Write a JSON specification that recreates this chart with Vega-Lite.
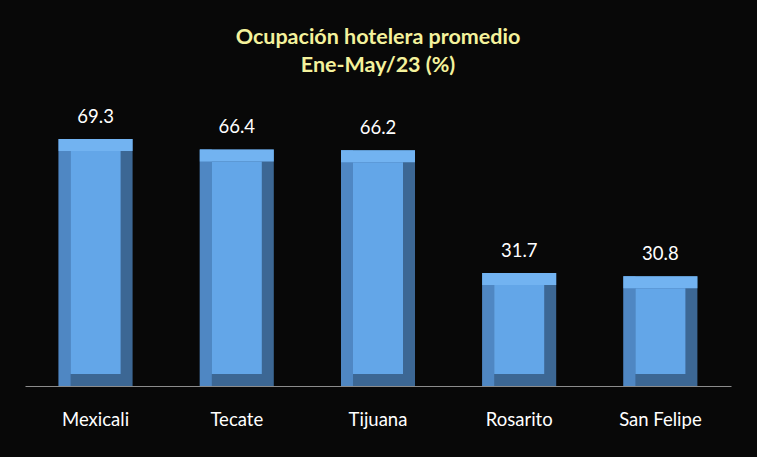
{
  "$schema": "https://vega.github.io/schema/vega-lite/v6.json",
  "width": 706,
  "height": 285,
  "autosize": {"type": "none"},
  "padding": {"left": 25, "right": 26, "top": 101, "bottom": 71},
  "background": "#080808",
  "title": {
    "text": ["Ocupación hotelera promedio", "Ene-May/23 (%)"],
    "font": "Lato",
    "fontSize": 21.5,
    "fontWeight": "bold",
    "color": "#f4f29c",
    "lineHeight": 28,
    "anchor": "middle",
    "offset": 25
  },
  "config": {
    "view": {"stroke": null},
    "font": "Lato"
  },
  "data": {
    "values": [
      {"destino": "Mexicali", "ocupacion": 69.3},
      {"destino": "Tecate", "ocupacion": 66.4},
      {"destino": "Tijuana", "ocupacion": 66.2},
      {"destino": "Rosarito", "ocupacion": 31.7},
      {"destino": "San Felipe", "ocupacion": 30.8}
    ]
  },
  "encoding": {
    "x": {
      "field": "destino",
      "type": "nominal",
      "sort": null,
      "title": null,
      "scale": {"paddingInner": 0.475, "paddingOuter": 0.2375},
      "axis": {
        "labelAngle": 0,
        "labelColor": "#ffffff",
        "labelFontSize": 18.5,
        "labelFont": "Lato",
        "labelPadding": 24,
        "ticks": false,
        "domainColor": "#8c8c8c",
        "domainWidth": 1
      }
    },
    "y": {
      "field": "ocupacion",
      "type": "quantitative",
      "scale": {"domain": [0, 80]},
      "axis": null
    }
  },
  "layer": [
    {"mark": {"type": "bar", "width": 74, "color": "#3c6794"}},
    {"mark": {"type": "bar", "width": 12, "xOffset": -31, "color": "#4f87c3"}},
    {
      "mark": {"type": "bar", "width": 74, "color": "#72b3f1", "y2Offset": 12},
      "encoding": {"y2": {"field": "ocupacion"}}
    },
    {
      "mark": {"type": "bar", "width": 50, "color": "#63a6e8", "yOffset": 12, "y2Offset": -12},
      "encoding": {"y2": {"datum": 0}}
    },
    {
      "mark": {"type": "text", "baseline": "bottom", "dy": -12, "fontSize": 18.5, "font": "Lato", "color": "#ffffff"},
      "encoding": {"text": {"field": "ocupacion", "type": "quantitative", "format": ".1f"}}
    }
  ]
}
